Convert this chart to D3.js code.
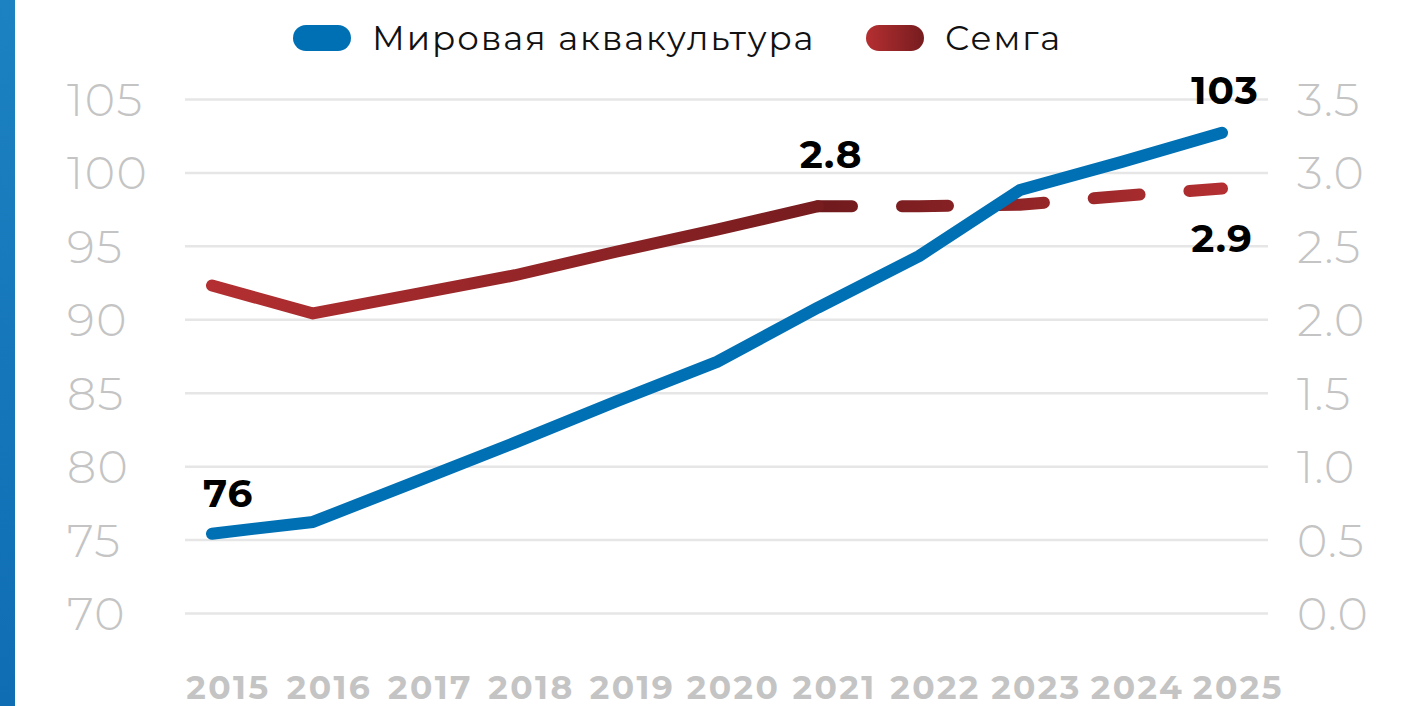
<!DOCTYPE html>
<html>
<head>
<meta charset="utf-8">
<script src="https://cdn.jsdelivr.net/npm/d3@7"></script>
<style>
  html, body { margin: 0; padding: 0; background: #fff; }
  svg { display: block; font-family: "Montserrat", "Inter", sans-serif; }
</style>
</head>
<body>
<svg id="chart" width="1415" height="706"></svg>
<script>
  // data
  let years = [2015, 2016, 2017, 2018, 2019, 2020, 2021, 2022, 2023, 2024, 2025];
  let aqua = [75.4, 76.2, 78.9, 81.6, 84.4, 87.1, 90.8, 94.3, 98.8, 100.7, 102.7];
  let salmon = [2.23, 2.04, 2.17, 2.30, 2.46, 2.61, 2.77, 2.77, 2.78, 2.84, 2.89];
  let leftTicks = [70, 75, 80, 85, 90, 95, 100, 105];
  let rightTicks = [0, 0.5, 1.0, 1.5, 2.0, 2.5, 3.0, 3.5];
  let seriesNames = ["Мировая аквакультура", "Семга"];
  let lastActual = 2021;

  let svg = d3.select("#chart");
  let plotLeft = 185, plotRight = 1268;

  let x = d3.scalePoint().domain(years).range([212, 1222]);
  let yL = d3.scaleLinear().domain([70, 105]).range([613, 99]);
  let yR = d3.scaleLinear().domain([0, 3.5]).range([613, 99]);

  let defs = svg.append("defs");
  let g1 = defs.append("linearGradient").attr("id", "redSolid")
      .attr("gradientUnits", "userSpaceOnUse")
      .attr("x1", x(2015)).attr("x2", x(lastActual)).attr("y1", 0).attr("y2", 0);
  g1.append("stop").attr("offset", 0).attr("stop-color", "#b32f31");
  g1.append("stop").attr("offset", 1).attr("stop-color", "#771c1f");
  let g2 = defs.append("linearGradient").attr("id", "redDash")
      .attr("gradientUnits", "userSpaceOnUse")
      .attr("x1", x(lastActual)).attr("x2", x(2025)).attr("y1", 0).attr("y2", 0);
  g2.append("stop").attr("offset", 0).attr("stop-color", "#6f1a1d");
  g2.append("stop").attr("offset", 1).attr("stop-color", "#b32f31");
  let g3 = defs.append("linearGradient").attr("id", "redPill");
  g3.append("stop").attr("offset", 0).attr("stop-color", "#b52f31");
  g3.append("stop").attr("offset", 1).attr("stop-color", "#761c1f");
  let g4 = defs.append("linearGradient").attr("id", "sideBar")
      .attr("x1", 0).attr("x2", 0).attr("y1", 0).attr("y2", 1);
  g4.append("stop").attr("offset", 0).attr("stop-color", "#1c82c1");
  g4.append("stop").attr("offset", 1).attr("stop-color", "#0f6db4");

  // blue strip on the left edge
  svg.append("rect").attr("x", 0).attr("y", 0).attr("width", 15).attr("height", 706)
      .attr("fill", "url(#sideBar)");

  // gridlines
  svg.append("g")
      .attr("transform", "translate(" + plotLeft + ",0)")
      .call(d3.axisRight(yL).tickValues(leftTicks).tickSize(plotRight - plotLeft).tickFormat(""))
      .call(g => g.select(".domain").remove())
      .call(g => g.selectAll("line").attr("stroke", "#e6e6e6").attr("stroke-width", 2.5));

  // left axis labels
  svg.append("g")
      .attr("transform", "translate(67,0)")
      .call(d3.axisLeft(yL).tickValues(leftTicks).tickSize(0).tickFormat(d3.format("d")))
      .call(g => g.select(".domain").remove())
      .call(g => g.selectAll("text")
          .attr("x", 0).attr("dy", "0.36em")
          .attr("text-anchor", "start")
          .attr("fill", "#c4c4c4")
          .attr("font-family", "Montserrat, Inter, sans-serif")
          .attr("font-weight", 300)
          .attr("letter-spacing", 1.5)
          .attr("font-size", 46));

  // right axis labels
  svg.append("g")
      .attr("transform", "translate(1297,0)")
      .call(d3.axisRight(yR).tickValues(rightTicks).tickSize(0).tickFormat(d3.format(".1f")))
      .call(g => g.select(".domain").remove())
      .call(g => g.selectAll("text")
          .attr("x", 0).attr("dy", "0.36em")
          .attr("text-anchor", "start")
          .attr("fill", "#c4c4c4")
          .attr("font-family", "Montserrat, Inter, sans-serif")
          .attr("font-weight", 300)
          .attr("letter-spacing", 1)
          .attr("font-size", 46));

  // year labels
  svg.append("g")
      .attr("transform", "translate(0,699)")
      .call(d3.axisBottom(x).tickSize(0))
      .call(g => g.select(".domain").remove())
      .call(g => g.selectAll("text")
          .attr("y", 0).attr("dy", 0).attr("dx", 16)
          .attr("fill", "#c4c4c4")
          .attr("font-family", "Montserrat, Inter, sans-serif")
          .attr("font-weight", 700)
          .attr("letter-spacing", 2.5)
          .attr("font-size", 33));

  let aquaLine = d3.line()
      .x((d, i) => x(years[i]))
      .y(d => yL(d));

  let salmonPts = years.map((yr, i) => ({ year: yr, v: salmon[i] }));
  let salmonLine = d3.line()
      .x(d => x(d.year))
      .y(d => yR(d.v));

  svg.append("path")
      .datum(salmonPts.filter(d => d.year >= lastActual))
      .attr("d", salmonLine)
      .attr("fill", "none")
      .attr("stroke", "url(#redDash)")
      .attr("stroke-width", 12)
      .attr("stroke-linecap", "round")
      .attr("stroke-dasharray", "46,50")
      .attr("stroke-dashoffset", 12);

  svg.append("path")
      .datum(salmonPts.filter(d => d.year <= lastActual))
      .attr("d", salmonLine)
      .attr("fill", "none")
      .attr("stroke", "url(#redSolid)")
      .attr("stroke-width", 12)
      .attr("stroke-linecap", "round")
      .attr("stroke-linejoin", "round");

  svg.append("path")
      .datum(aqua)
      .attr("d", aquaLine)
      .attr("fill", "none")
      .attr("stroke", "#0070b4")
      .attr("stroke-width", 12)
      .attr("stroke-linecap", "round")
      .attr("stroke-linejoin", "round");

  // value labels
  let iFirst = 0, iLast = years.length - 1, iAct = years.indexOf(lastActual);
  let lbl = svg.append("g")
      .attr("font-family", "Montserrat, Inter, sans-serif")
      .attr("font-weight", 700)
      .attr("font-size", 39)
      .attr("letter-spacing", 1)
      .attr("fill", "#000");
  lbl.append("text")
      .attr("x", x(years[iFirst]) - 9).attr("y", yL(aqua[iFirst]) - 27)
      .attr("text-anchor", "start")
      .text(Math.round(aqua[iFirst] + 0.5));
  lbl.append("text")
      .attr("x", x(years[iLast]) + 3).attr("y", yL(aqua[iLast]) - 29)
      .attr("text-anchor", "middle")
      .text(Math.round(aqua[iLast]));
  lbl.append("text")
      .attr("x", x(years[iAct]) + 13).attr("y", yR(salmon[iAct]) - 38)
      .attr("text-anchor", "middle")
      .text(d3.format(".1f")(salmon[iAct]));
  lbl.append("text")
      .attr("x", x(years[iLast])).attr("y", yR(salmon[iLast]) + 63)
      .attr("text-anchor", "middle")
      .text(d3.format(".1f")(salmon[iLast]));

  // legend
  let legend = svg.append("g")
      .attr("font-family", "Montserrat, Inter, sans-serif")
      .attr("font-size", 34)
      .attr("letter-spacing", 1.9)
      .attr("fill", "#111");
  let legendX = [293, 866];
  let legendFill = ["#0070b4", "url(#redPill)"];
  seriesNames.forEach((name, i) => {
    let item = legend.append("g").attr("transform", "translate(" + legendX[i] + ",38)");
    item.append("rect")
        .attr("x", 0).attr("y", -13).attr("width", 58).attr("height", 26)
        .attr("rx", 13).attr("fill", legendFill[i]);
    item.append("text")
        .attr("x", 79).attr("dy", "0.36em")
        .text(name);
  });
</script>
</body>
</html>
